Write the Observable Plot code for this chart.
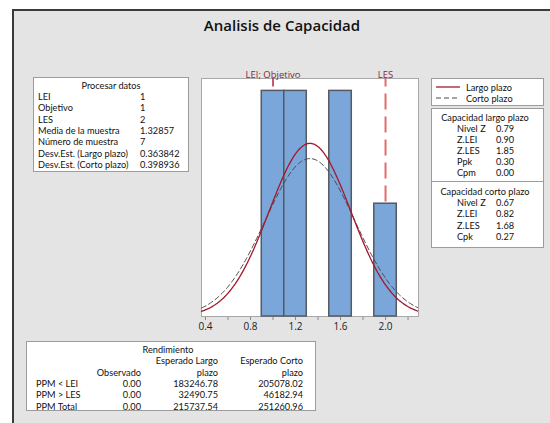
<!DOCTYPE html>
<html><head><meta charset="utf-8">
<script src="https://cdn.jsdelivr.net/npm/d3@7"></script>
<script src="https://cdn.jsdelivr.net/npm/@observablehq/plot@0.6"></script>
<style>
body{margin:0;background:#fff;font-family:"Open Sans",sans-serif;color:#111;}
#root{position:relative;width:550px;height:423px;overflow:hidden;background:#fff;}
#panel{position:absolute;left:12px;top:9px;width:545px;height:420px;background:#e4e4e4;border-left:2px solid #3a3a3a;border-top:2px solid #3a3a3a;}
.box{position:absolute;background:#fff;border:1px solid #9c9c9c;box-sizing:border-box;}
.t{position:absolute;white-space:nowrap;font-family:Lato,sans-serif;font-size:9.2px;line-height:9px;}
#chart{position:absolute;left:190px;top:60px;}
#chart g[aria-label="x-axis tick"] path{stroke:#8a8a8a;}
</style>
</head><body>
<div id="root"><div id="panel"></div></div>
<script>
// ---------- data ----------
const titleText = "Analisis de Capacidad";
const binLo = [0.9, 1.1, 1.5, 1.9];
const binHi = [1.1, 1.3, 1.7, 2.1];
const binCount = [2, 2, 2, 1];
const specValues = [1.0, 2.0];
const specLabels = ["LEI; Objetivo", "LES"];
const meanValue = 1.32857;
const sigmaLong = 0.363842;
const sigmaShort = 0.398936;
const sampleSize = 7;
const binWidth = 0.2;
const xTicks = [0.4, 0.6, 0.8, 1.0, 1.2, 1.4, 1.6, 1.8, 2.0, 2.2];
const xTickLabels = ["0.4", "", "0.8", "", "1.2", "", "1.6", "", "2.0", ""];
const procTitle = "Procesar datos";
const procLabels = ["LEI", "Objetivo", "LES", "Media de la muestra", "Número de muestra", "Desv.Est. (Largo plazo)", "Desv.Est. (Corto plazo)"];
const procValues = ["1", "1", "2", "1.32857", "7", "0.363842", "0.398936"];
const legendLabels = ["Largo plazo", "Corto plazo"];
const longTitle = "Capacidad largo plazo";
const longLabels = ["Nivel Z", "Z.LEI", "Z.LES", "Ppk", "Cpm"];
const longValues = ["0.79", "0.90", "1.85", "0.30", "0.00"];
const shortTitle = "Capacidad corto plazo";
const shortLabels = ["Nivel Z", "Z.LEI", "Z.LES", "Cpk"];
const shortValues = ["0.67", "0.82", "1.68", "0.27"];
const perfTitle = "Rendimiento";
const perfHead1 = ["", "", "Esperado Largo", "Esperado Corto"];
const perfHead2 = ["", "Observado", "plazo", "plazo"];
const perfRows = ["PPM < LEI", "PPM > LES", "PPM Total"];
const perfObserved = ["0.00", "0.00", "0.00"];
const perfLong = ["183246.78", "32490.75", "215737.54"];
const perfShort = ["205078.02", "46182.94", "251260.96"];

const colLong = "#a3182d", colShort = "#4a4a4a";

// ---------- helpers ----------
const root = document.getElementById("root");
function box(x, y, w, h) {
  const d = document.createElement("div");
  d.className = "box";
  Object.assign(d.style, {left: x + "px", top: y + "px", width: w + "px", height: h + "px"});
  root.appendChild(d);
  return d;
}
function txt(x, y, s, align = "left", extra = {}) {
  const d = document.createElement("div");
  d.className = "t";
  d.textContent = s;
  d.style.left = x + "px";
  d.style.top = (y - 4.5) + "px";
  if (align === "right") d.style.transform = "translateX(-100%)";
  if (align === "center") d.style.transform = "translateX(-50%)";
  Object.assign(d.style, extra);
  root.appendChild(d);
  return d;
}

// title
txt(282, 25, titleText, "center", {fontFamily: "Open Sans", fontSize: "15px", fontWeight: "600", lineHeight: "18px", top: "16px", color: "#111"});

// ---------- chart ----------
const bins = binLo.map((lo, i) => ({x1: lo, x2: binHi[i], y: binCount[i]}));
const xDomain = [0.3644, 2.293];
const xs = d3.range(xDomain[0], xDomain[1] + 0.0001, 0.01);
const scaleK = sampleSize * binWidth;
const pdf = (x, s) => Math.exp(-0.5 * ((x - meanValue) / s) ** 2) / (s * Math.sqrt(2 * Math.PI));
const curveLong = xs.map(x => ({x, y: scaleK * pdf(x, sigmaLong)}));
const curveShort = xs.map(x => ({x, y: scaleK * pdf(x, sigmaShort)}));
const specs = specValues.map((v, i) => ({x: v, label: specLabels[i]}));

const chart = Plot.plot({
  width: 240, height: 280,
  marginLeft: 11, marginRight: 12, marginTop: 18, marginBottom: 24,
  style: {background: "transparent", fontFamily: "Open Sans", fontSize: "10px", color: "#222", overflow: "visible"},
  x: {domain: xDomain, ticks: xTicks, tickFormat: (d) => xTickLabels[xTicks.findIndex(t => Math.abs(t - d) < 1e-9)], tickSize: 4, tickPadding: 2, label: null},
  y: {domain: [0, 2.11], axis: null},
  marks: [
    Plot.frame({fill: "white", stroke: "#a8a8a8"}),
    Plot.ruleX([specs[0]], {x: "x", stroke: "#b4233f", strokeWidth: 1.5, strokeDasharray: "16,7", strokeDashoffset: 7.6}),
    Plot.ruleX([specs[1]], {x: "x", stroke: "#e36b6b", strokeWidth: 2, strokeDasharray: "16,7", strokeDashoffset: 7.6}),
    Plot.rectY(bins, {x1: "x1", x2: "x2", y: "y", fill: "#7ba6da", stroke: "#565a60", strokeWidth: 1.5}),
    Plot.line(curveShort, {x: "x", y: "y", stroke: colShort, strokeWidth: 1, strokeDasharray: "5,3"}),
    Plot.line(curveLong, {x: "x", y: "y", stroke: colLong, strokeWidth: 1.3}),
    Plot.text(specs, {x: "x", text: "label", frameAnchor: "top", dy: -7, fill: "#8c1d40", fontSize: 9.5})
  ]
});
chart.id = "chart";
root.appendChild(chart);

// ---------- Procesar datos ----------
box(33, 77, 156, 95);
txt(111, 85, procTitle, "center");
procLabels.forEach((l, i) => {
  txt(38, 96.5 + i * 11.3, l);
  txt(140, 96.5 + i * 11.3, procValues[i]);
});

// ---------- legend ----------
const lg = box(431, 78, 113, 28);
lg.innerHTML = `<svg width="113" height="28" style="position:absolute;left:-1px;top:-1px">
<line x1="5" x2="29" y1="9" y2="9" stroke="${colLong}" stroke-width="1.3"/>
<line x1="5" x2="29" y1="20" y2="20" stroke="${colShort}" stroke-width="1" stroke-dasharray="5,3"/></svg>`;
legendLabels.forEach((l, i) => txt(466, 87 + i * 11, l));

// ---------- capability ----------
box(431, 108, 113, 140);
const sep = document.createElement("div");
Object.assign(sep.style, {position: "absolute", left: "431px", top: "181px", width: "113px", height: "1px", background: "#9c9c9c"});
root.appendChild(sep);
txt(485, 117, longTitle, "center");
longLabels.forEach((l, i) => {
  txt(457, 128.2 + i * 11.1, l);
  txt(496, 128.2 + i * 11.1, longValues[i]);
});
txt(485, 191.5, shortTitle, "center");
shortLabels.forEach((l, i) => {
  txt(457, 202.8 + i * 11.1, l);
  txt(496, 202.8 + i * 11.1, shortValues[i]);
});

// ---------- Rendimiento ----------
box(26, 341, 290, 70);
txt(168, 349, perfTitle, "center");
const colX = [36, 141, 218, 303];
perfHead1.forEach((h, j) => { if (h) txt(colX[j], 360.5, h, "right"); });
perfHead2.forEach((h, j) => { if (h) txt(colX[j], 372, h, "right"); });
perfRows.forEach((r, i) => {
  const y = 383 + i * 11.5;
  txt(colX[0], y, r);
  txt(colX[1], y, perfObserved[i], "right");
  txt(colX[2], y, perfLong[i], "right");
  txt(colX[3], y, perfShort[i], "right");
});
</script>
</body></html>
